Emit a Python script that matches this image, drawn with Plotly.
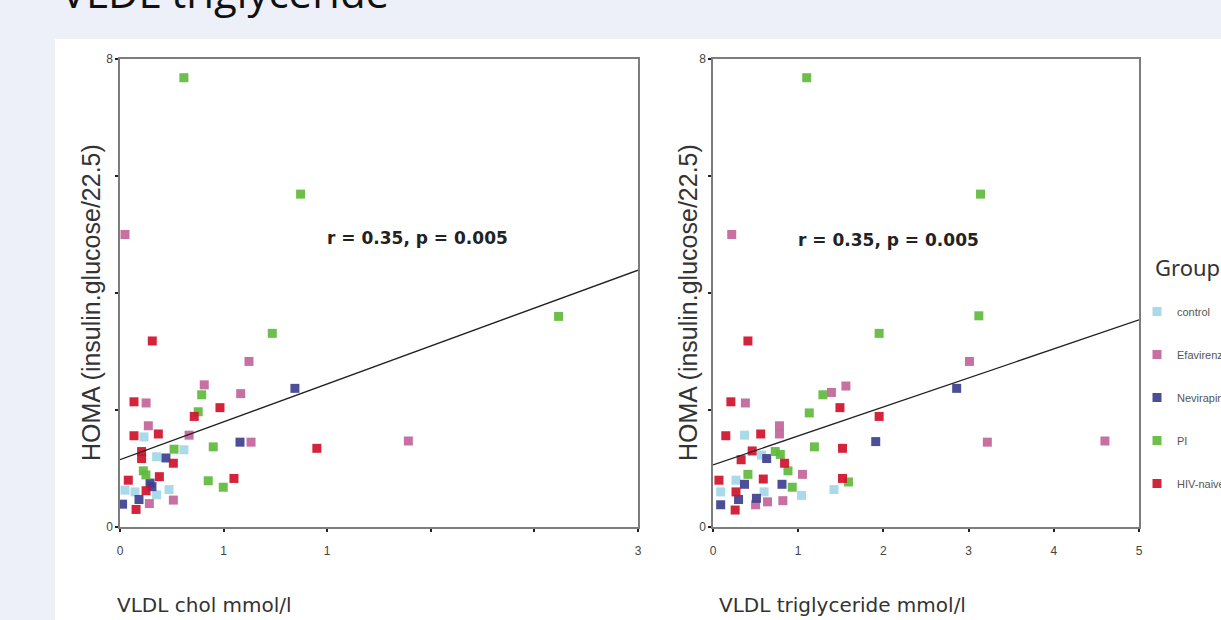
import plotly.graph_objects as go

# ---------------- data ----------------
groups = ["control", "Efavirenz", "Nevirapine", "PI", "HIV-naive"]
group_colors = ["#a3d6e8", "#c2649a", "#3d3f8f", "#5fba3c", "#d0112b"]

# Left panel: VLDL chol (mmol/l) vs HOMA
chol_control_x = [0.139, 0.37, 0.212, 0.029, 0.087, 0.212, 0.284]
chol_control_y = [1.54, 1.32, 1.20, 0.63, 0.60, 0.55, 0.64]
chol_efav_x = [0.029, 1.67, 0.747, 0.488, 0.151, 0.699, 0.164, 0.40, 0.759, 0.309, 0.17]
chol_efav_y = [5.00, 1.47, 2.83, 2.43, 2.12, 2.28, 1.73, 1.57, 1.45, 0.46, 0.40]
chol_nevi_x = [1.013, 0.695, 0.266, 0.174, 0.11, 0.015, 0.185]
chol_nevi_y = [2.37, 1.45, 1.18, 0.75, 0.47, 0.39, 0.69]
chol_pi_x = [0.37, 1.046, 2.54, 0.882, 0.473, 0.453, 0.54, 0.313, 0.135, 0.15, 0.511, 0.598]
chol_pi_y = [7.68, 5.69, 3.60, 3.31, 2.26, 1.97, 1.37, 1.33, 0.96, 0.89, 0.79, 0.68]
chol_hiv_x = [1.14, 0.187, 0.081, 0.579, 0.43, 0.081, 0.222, 0.125, 0.125, 0.309, 0.228, 0.048, 0.66, 0.151, 0.093]
chol_hiv_y = [1.345, 3.18, 2.14, 2.04, 1.89, 1.56, 1.59, 1.29, 1.17, 1.09, 0.86, 0.80, 0.83, 0.62, 0.30]

# Right panel: VLDL triglyceride (mmol/l) vs HOMA
tg_control_x = [0.37, 0.57, 0.27, 1.42, 0.09, 0.60, 1.04]
tg_control_y = [1.57, 1.23, 0.80, 0.64, 0.60, 0.60, 0.54]
tg_efav_x = [0.22, 3.01, 3.22, 4.60, 1.56, 1.39, 0.38, 0.78, 0.78, 1.05, 0.50, 0.64, 0.82]
tg_efav_y = [5.00, 2.83, 1.45, 1.47, 2.41, 2.30, 2.12, 1.73, 1.59, 0.90, 0.38, 0.43, 0.45]
tg_nevi_x = [2.86, 1.91, 0.63, 0.37, 0.81, 0.30, 0.51, 0.09]
tg_nevi_y = [2.37, 1.46, 1.17, 0.73, 0.73, 0.47, 0.49, 0.38]
tg_pi_x = [1.10, 3.14, 3.12, 1.95, 1.29, 1.13, 1.19, 0.73, 0.79, 0.88, 0.41, 1.59, 0.93]
tg_pi_y = [7.68, 5.69, 3.61, 3.31, 2.26, 1.95, 1.37, 1.29, 1.24, 0.96, 0.90, 0.77, 0.68]
tg_hiv_x = [0.41, 0.21, 1.49, 1.95, 0.15, 0.56, 1.52, 0.46, 0.33, 0.84, 0.07, 0.59, 1.52, 0.27, 0.26]
tg_hiv_y = [3.18, 2.14, 2.04, 1.89, 1.56, 1.59, 1.345, 1.30, 1.15, 1.09, 0.80, 0.82, 0.83, 0.60, 0.29]

# Regression lines (end points)
chol_fit_x = [0, 3]
chol_fit_y = [1.15, 4.39]
tg_fit_x = [0, 5]
tg_fit_y = [1.06, 3.54]

annotation_text = "r = 0.35, p = 0.005"

chol_ticks = [0, 0.6, 1.2, 1.8, 2.4, 3.0]
chol_ticktext = ["0", "1", "1", "", "", "3"]
tg_ticks = [0, 1, 2, 3, 4, 5]
tg_ticktext = ["0", "1", "2", "3", "4", "5"]
homa_ticks = [0, 2, 4, 6, 8]
homa_ticktext = ["0", "", "", "", "8"]

left_sets = [(chol_control_x, chol_control_y), (chol_efav_x, chol_efav_y),
             (chol_nevi_x, chol_nevi_y), (chol_pi_x, chol_pi_y), (chol_hiv_x, chol_hiv_y)]
right_sets = [(tg_control_x, tg_control_y), (tg_efav_x, tg_efav_y),
              (tg_nevi_x, tg_nevi_y), (tg_pi_x, tg_pi_y), (tg_hiv_x, tg_hiv_y)]

# ---------------- figure ----------------
W, H = 1221, 620
fig = go.Figure()

for i, (g, c) in enumerate(zip(groups, group_colors)):
    lx, ly = left_sets[i]
    rx, ry = right_sets[i]
    fig.add_trace(go.Scatter(x=lx, y=ly, mode="markers", name=g, legendgroup=g,
                             marker=dict(symbol="square", size=9, color=c, opacity=0.92),
                             cliponaxis=False, xaxis="x", yaxis="y"))
    fig.add_trace(go.Scatter(x=rx, y=ry, mode="markers", name=g, legendgroup=g, showlegend=False,
                             marker=dict(symbol="square", size=9, color=c, opacity=0.92),
                             cliponaxis=False, xaxis="x2", yaxis="y2"))

fig.add_trace(go.Scatter(x=chol_fit_x, y=chol_fit_y, mode="lines", showlegend=False,
                         line=dict(color="#222222", width=1.3), xaxis="x", yaxis="y"))
fig.add_trace(go.Scatter(x=tg_fit_x, y=tg_fit_y, mode="lines", showlegend=False,
                         line=dict(color="#222222", width=1.3), xaxis="x2", yaxis="y2"))

def px_x(p):
    return p / W

def px_y(p):
    return 1 - p / H

axis_common = dict(showline=True, mirror=True, linecolor="#7d7d7d", linewidth=1.5,
                   ticks="outside", ticklen=3, tickwidth=2, tickcolor="#222",
                   showgrid=False, zeroline=False,
                   tickfont=dict(family="Liberation Sans Narrow, Liberation Sans, Arial", size=12, color="#444"))

fig.update_layout(
    width=W, height=H,
    margin=dict(l=0, r=0, t=0, b=0, autoexpand=False),
    paper_bgcolor="#edf0f8",
    plot_bgcolor="rgba(0,0,0,0)",
    xaxis=dict(domain=[px_x(120), px_x(638)], range=[0, 3], anchor="y",
               tickvals=chol_ticks, ticktext=chol_ticktext, ticklabelstandoff=9, **axis_common),
    yaxis=dict(domain=[px_y(527), px_y(59)], range=[0, 8], anchor="x",
               tickvals=homa_ticks, ticktext=homa_ticktext, **axis_common),
    xaxis2=dict(domain=[px_x(713), px_x(1139)], range=[0, 5], anchor="y2",
                tickvals=tg_ticks, ticktext=tg_ticktext, ticklabelstandoff=9, **axis_common),
    yaxis2=dict(domain=[px_y(527), px_y(59)], range=[0, 8], anchor="x2",
                tickvals=homa_ticks, ticktext=homa_ticktext, **axis_common),
    legend=dict(x=px_x(1137), xanchor="left", y=px_y(297), yanchor="top",
                font=dict(family="Liberation Sans Narrow, Liberation Sans", size=11, color="#555"),
                bgcolor="rgba(0,0,0,0)", tracegroupgap=24, itemsizing="trace",
                traceorder="grouped"),
    showlegend=True,
)

# white panel behind the figure image
fig.add_shape(type="rect", xref="paper", yref="paper",
              x0=px_x(55), x1=1.02, y0=-0.02, y1=px_y(39),
              fillcolor="white", line=dict(width=0), layer="below")

anns = []
# page heading (cut off at top)
anns.append(dict(text="VLDL triglyceride", xref="paper", yref="paper",
                 x=px_x(59), y=px_y(22), xanchor="left", yanchor="bottom", showarrow=False,
                 font=dict(family="Open Sans, Noto Sans", size=42, color="#111")))
# correlation labels
anns.append(dict(text="<b>" + annotation_text + "</b>", xref="paper", yref="paper",
                 x=px_x(417), y=px_y(238), xanchor="center", yanchor="middle", showarrow=False,
                 font=dict(family="DejaVu Sans", size=17, color="#222")))
anns.append(dict(text="<b>" + annotation_text + "</b>", xref="paper", yref="paper",
                 x=px_x(888), y=px_y(240), xanchor="center", yanchor="middle", showarrow=False,
                 font=dict(family="DejaVu Sans", size=17, color="#222")))
# legend heading
anns.append(dict(text="Group", xref="paper", yref="paper",
                 x=px_x(1153), y=px_y(267), xanchor="left", yanchor="middle", showarrow=False,
                 font=dict(family="Noto Sans, Open Sans", size=22, color="#333")))
# y titles
for xp in (91, 688):
    anns.append(dict(text="HOMA (insulin.glucose/22.5)", xref="paper", yref="paper",
                     x=px_x(xp), y=px_y(303), xanchor="center", yanchor="middle",
                     textangle=-90, showarrow=False,
                     font=dict(family="Liberation Sans, Arial", size=25, color="#333")))
# x titles
anns.append(dict(text="VLDL chol mmol/l", xref="paper", yref="paper",
                 x=px_x(115), y=px_y(605), xanchor="left", yanchor="middle", showarrow=False,
                 font=dict(family="DejaVu Sans", size=20, color="#333")))
anns.append(dict(text="VLDL triglyceride mmol/l", xref="paper", yref="paper",
                 x=px_x(717), y=px_y(605), xanchor="left", yanchor="middle", showarrow=False,
                 font=dict(family="DejaVu Sans", size=20, color="#333")))
fig.update_layout(annotations=anns)

fig.write_html("out.html", config={"displayModeBar": False},
               post_script="document.body.style.margin='0';document.body.style.background='#edf0f8';document.body.style.overflow='hidden';")
